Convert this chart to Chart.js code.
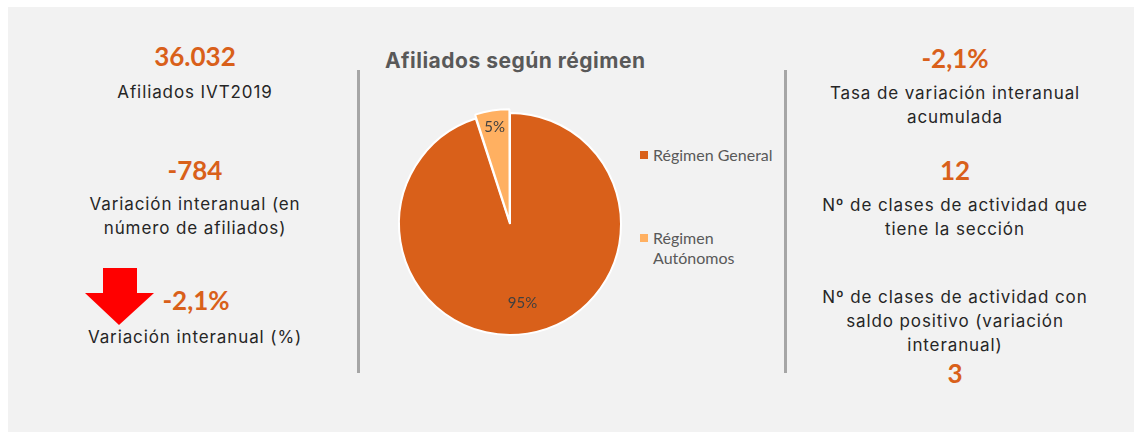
<!DOCTYPE html>
<html>
<head>
<meta charset="utf-8">
<script src="https://cdn.jsdelivr.net/npm/chart.js@4"></script>
<style>
  html, body { margin: 0; padding: 0; background: #fff; }
  body { width: 1134px; height: 432px; position: relative; overflow: hidden; }
  #panel { position: absolute; left: 8px; top: 7px; right: 0; bottom: 0; background: #f2f2f2; }
  .sep { position: absolute; top: 70px; width: 3px; height: 303px; background: #a6a6a6; }
  .t { position: absolute; width: 340px; text-align: center; }
  .num { font-family: Lato, sans-serif; font-weight: bold; font-size: 26px; color: #d9601a; line-height: 30px; }
  .txt { font-family: Inter, sans-serif; font-size: 17px; letter-spacing: 0.9px; color: #262626; line-height: 24px; }
  #title { position: absolute; left: 385px; top: 48px; font-family: Inter, sans-serif; font-weight: bold;
           font-size: 21px; letter-spacing: 0.5px; color: #595959; white-space: nowrap; }
  #chartBox { position: absolute; left: 380px; top: 94px; width: 260px; height: 260px; }
  #legend { position: absolute; left: 640px; top: 145px; font-family: Lato, sans-serif; font-size: 16px; color: #595959; }
  .li { position: relative; padding-left: 13px; width: 130px; line-height: 20px; }
  .li span.box { position: absolute; left: 0; top: 6px; width: 8px; height: 8px; }
  #arrow { position: absolute; left: 85px; top: 268px; }
</style>
</head>
<body>
<div id="panel"></div>
<div class="sep" style="left:357px"></div>
<div class="sep" style="left:784px"></div>

<div class="t num" style="left:25px; top:41px">36.032</div>
<div class="t txt" style="left:25px; top:80px">Afiliados IVT2019</div>
<div class="t num" style="left:25px; top:155px">-784</div>
<div class="t txt" style="left:25px; top:192px">Variación interanual (en<br>número de afiliados)</div>
<svg id="arrow" width="70" height="58" viewBox="0 0 70 58">
  <polygon points="18,0 52,0 52,25 69,25 34,57 0,25 18,25" fill="#ff0000"/>
</svg>
<div class="t num" style="left:26px; top:285px">-2,1%</div>
<div class="t txt" style="left:25px; top:325px">Variación interanual (%)</div>

<div id="title">Afiliados según régimen</div>
<div id="chartBox"><canvas id="myChart"></canvas></div>
<div id="legend"></div>

<div class="t num" style="left:785px; top:43px">-2,1%</div>
<div class="t txt" style="left:785px; top:81px">Tasa de variación interanual<br>acumulada</div>
<div class="t num" style="left:785px; top:155px">12</div>
<div class="t txt" style="left:785px; top:193px">Nº de clases de actividad que<br>tiene la sección</div>
<div class="t txt" style="left:785px; top:285px">Nº de clases de actividad con<br>saldo positivo (variación<br>interanual)</div>
<div class="t num" style="left:785px; top:358px">3</div>

<script>
const REGIMES = ['Régimen General', 'Régimen Autónomos'];
const SHARES = [95, 5];
const COLORS = ['#d9601a', '#ffb061'];

// where each percent label sits, as a fraction of the radius
const LABEL_POS = [0.72, 0.8];

const pctLabels = {
  id: 'pctLabels',
  afterDatasetsDraw(chart) {
    const ctx = chart.ctx;
    const meta = chart.getDatasetMeta(0);
    const total = SHARES.reduce((a, b) => a + b, 0);
    ctx.save();
    ctx.font = '15px Lato, sans-serif';
    ctx.fillStyle = '#404040';
    ctx.textAlign = 'center';
    ctx.textBaseline = 'middle';
    meta.data.forEach((arc, i) => {
      const p = arc.getProps(['x', 'y', 'startAngle', 'endAngle', 'outerRadius'], true);
      const mid = (p.startAngle + p.endAngle) / 2;
      const off = arc.options.offset || 0;
      const r = p.outerRadius * LABEL_POS[i] + off;
      const x = p.x + Math.cos(mid) * r;
      const y = p.y + Math.sin(mid) * r;
      ctx.fillText(Math.round(SHARES[i] / total * 100) + '%', x, y);
    });
    ctx.restore();
  }
};

window.onload = function() {
  const ctx = document.getElementById('myChart');

  const data = {
    labels: REGIMES,
    datasets: [{
      data: SHARES,
      backgroundColor: COLORS,
      borderColor: '#ffffff',
      borderWidth: 2,
      offset: [0, 9]
    }]
  };

  new Chart(ctx, {
    type: 'pie',
    data: data,
    options: {
      responsive: true,
      maintainAspectRatio: false,
      animation: false,
      radius: 111,
      plugins: {
        legend: { display: false },
        tooltip: { enabled: false }
      }
    },
    plugins: [pctLabels]
  });

  // legend built from the same arrays
  const lg = document.getElementById('legend');
  REGIMES.forEach((name, i) => {
    const d = document.createElement('div');
    d.className = 'li';
    d.style.marginBottom = i === 0 ? '63px' : '0';
    d.innerHTML = '<span class="box" style="background:' + COLORS[i] + '"></span>' + name;
    lg.appendChild(d);
  });
};
</script>
</body>
</html>
